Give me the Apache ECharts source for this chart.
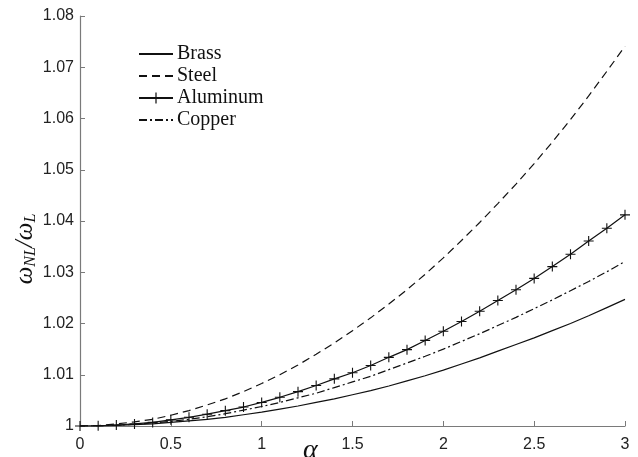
<!DOCTYPE html>
<html>
<head>
<meta charset="utf-8">
<script src="https://cdn.jsdelivr.net/npm/echarts@6/dist/echarts.min.js"></script>
<style>
  html, body { margin: 0; padding: 0; background: #fff; }
  #chart { width: 638px; height: 457px; }
</style>
</head>
<body>
<div id="chart"></div>
<script>
// Nonlinear-to-linear frequency ratio versus amplitude alpha
const alpha = [0, 0.1, 0.2, 0.3, 0.4, 0.5, 0.6, 0.7, 0.8, 0.9, 1.0,
  1.1, 1.2, 1.3, 1.4, 1.5, 1.6, 1.7, 1.8, 1.9, 2.0,
  2.1, 2.2, 2.3, 2.4, 2.5, 2.6, 2.7, 2.8, 2.9, 3.0];

const brass = [1, 1.00003, 1.0001, 1.00025, 1.0004, 1.0007, 1.0010, 1.0013, 1.0017, 1.0022, 1.0027,
  1.0033, 1.0039, 1.0046, 1.0053, 1.0061, 1.0069, 1.0078, 1.0088, 1.0098, 1.0109,
  1.0121, 1.0133, 1.0146, 1.0159, 1.0172, 1.0186, 1.0200, 1.0215, 1.0231, 1.0247];

const steel = [1, 1.0001, 1.0004, 1.0008, 1.0013, 1.0021, 1.0030, 1.0041, 1.0053, 1.0067, 1.0083,
  1.0100, 1.0119, 1.0140, 1.0162, 1.0186, 1.0211, 1.0238, 1.0266, 1.0296, 1.0328,
  1.0362, 1.0397, 1.0434, 1.0472, 1.0512, 1.0554, 1.0598, 1.0644, 1.0692, 1.0741];

const aluminum = [1, 1.00005, 1.0002, 1.0004, 1.0007, 1.0012, 1.0017, 1.0023, 1.0030, 1.0037, 1.0046,
  1.0056, 1.0067, 1.0079, 1.0092, 1.0104, 1.0118, 1.0134, 1.0149, 1.0167, 1.0185,
  1.0204, 1.0224, 1.0245, 1.0266, 1.0288, 1.0311, 1.0335, 1.0361, 1.0386, 1.0412];

const copper = [1, 1.00004, 1.00016, 1.00035, 1.0006, 1.0009, 1.0013, 1.0018, 1.0024, 1.0031, 1.0038,
  1.0046, 1.0055, 1.0064, 1.0075, 1.0086, 1.0097, 1.0110, 1.0123, 1.0136, 1.0150,
  1.0165, 1.0180, 1.0196, 1.0212, 1.0229, 1.0246, 1.0264, 1.0282, 1.0301, 1.0321];

const xTicks = { min: 0, max: 3, step: 0.5 };
const yTicks = { min: 1, max: 1.08, step: 0.01 };

const pairs = (ys) => alpha.map((a, i) => [a, ys[i]]);

const INK = '#111';
const AXIS = '#7a7a7a';
// thin "+" marker
const PLUS = 'path://M4.45,0h1.1v4.45h4.45v1.1h-4.45v4.45h-1.1v-4.45h-4.45v-1.1h4.45z';

const chart = echarts.init(document.getElementById('chart'), null, { renderer: 'canvas' });

const hidden = { opacity: 0 };

chart.setOption({
  animation: false,
  backgroundColor: '#fff',
  grid: { left: 80, right: 13, top: 16, bottom: 31, containLabel: false, outerBoundsMode: 'none' },
  legend: {
    orient: 'vertical',
    left: 133,
    top: 39,
    itemWidth: 34,
    itemHeight: 14,
    itemGap: 2,
    textStyle: { fontFamily: 'Liberation Serif', fontSize: 20, color: INK, padding: [0, 0, 0, -1] },
    data: [
      { name: 'Brass', itemStyle: hidden },
      { name: 'Steel', itemStyle: hidden },
      { name: 'Aluminum' },
      { name: 'Copper', itemStyle: hidden }
    ]
  },
  xAxis: {
    type: 'value',
    min: xTicks.min, max: xTicks.max, interval: xTicks.step,
    axisLine: { lineStyle: { color: AXIS, width: 1.2 } },
    axisTick: { inside: true, length: 5, lineStyle: { color: AXIS } },
    axisLabel: { fontFamily: 'Liberation Sans', fontSize: 16, color: '#222', margin: 11 },
    splitLine: { show: false }
  },
  yAxis: {
    type: 'value',
    min: yTicks.min, max: yTicks.max, interval: yTicks.step,
    axisLine: { show: true, lineStyle: { color: AXIS, width: 1.2 } },
    axisTick: { show: true, inside: true, length: 5, lineStyle: { color: AXIS } },
    axisLabel: {
      fontFamily: 'Liberation Sans', fontSize: 16, color: '#222', margin: 6,
      formatter: (v) => (Math.abs(v - 1) < 1e-9 ? '1' : v.toFixed(2))
    },
    splitLine: { show: false }
  },
  graphic: [
    {
      type: 'text',
      x: 25,
      y: 249,
      rotation: Math.PI / 2,
      style: {
        text: '{w|ω}{s|NL}{w|/ω}{s|L}',
        align: 'center',
        verticalAlign: 'middle',
        rich: {
          w: { fontFamily: 'Liberation Serif', fontStyle: 'italic', fontSize: 25, fill: INK },
          s: { fontFamily: 'Liberation Serif', fontStyle: 'italic', fontSize: 16, fill: INK, padding: [12, 0, 0, 0] }
        }
      }
    },
    {
      type: 'text',
      left: 303,
      top: 437,
      style: { text: 'α', fontFamily: 'Liberation Serif', fontStyle: 'italic', fontSize: 28, fill: INK }
    }
  ],
  series: [
    {
      name: 'Brass', type: 'line', data: pairs(brass), symbol: 'none',
      lineStyle: { color: INK, width: 1.2 }, itemStyle: { color: INK }
    },
    {
      name: 'Steel', type: 'line', data: pairs(steel), symbol: 'none',
      lineStyle: { color: INK, width: 1.2, type: [8, 5] }, itemStyle: { color: INK }
    },
    {
      name: 'Aluminum', type: 'line', data: pairs(aluminum),
      symbol: PLUS, symbolSize: 10, showAllSymbol: true,
      lineStyle: { color: INK, width: 1.2 }, itemStyle: { color: INK }
    },
    {
      name: 'Copper', type: 'line', data: pairs(copper), symbol: 'none',
      lineStyle: { color: INK, width: 1.2, type: [8, 3, 2, 3] }, itemStyle: { color: INK }
    }
  ]
});
</script>
</body>
</html>
